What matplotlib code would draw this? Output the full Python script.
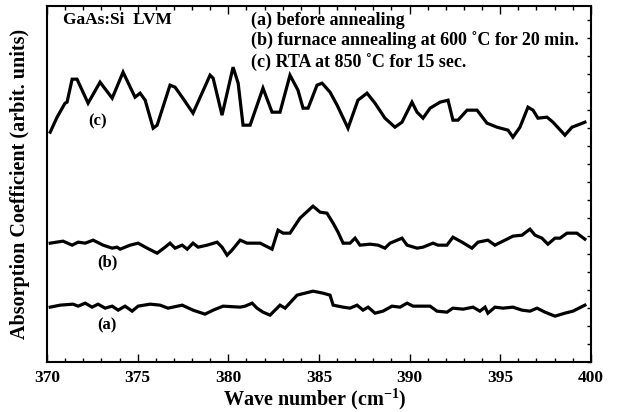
import numpy as np
import matplotlib
matplotlib.use("Agg")
import matplotlib.pyplot as plt
from matplotlib.ticker import MultipleLocator, NullFormatter

# wave numbers (cm^-1) and absorption (arbitrary units, offsets included)
wn_c = [370.17, 370.55, 370.99, 371.10, 371.38, 371.65, 372.26, 372.92, 373.59, 374.19,
        374.85, 375.13, 375.41, 375.85, 376.07, 376.78, 377.06, 377.45, 378.05, 378.99,
        379.16, 379.65, 380.26, 380.54, 380.81, 381.20, 381.91, 382.41, 382.85, 383.40,
        383.84, 384.12, 384.40, 384.89, 385.17, 385.61, 386.00, 386.60, 387.15, 387.65,
        388.09, 388.64, 389.19, 389.58, 390.13, 390.41, 390.74, 391.13, 391.68, 392.12,
        392.39, 392.67, 393.17, 393.72, 394.27, 394.82, 395.43, 395.70, 396.09, 396.53,
        396.81, 397.08, 397.58, 397.91, 398.57, 398.96, 399.40, 399.67]
abs_c = [23.0, 24.5, 25.9, 26.0, 28.3, 28.3, 25.9, 28.0, 26.4, 29.0,
         26.5, 26.9, 26.2, 23.4, 23.7, 27.7, 27.5, 26.5, 24.9, 28.7,
         28.4, 24.7, 29.5, 27.9, 23.7, 23.7, 27.4, 25.0, 25.0, 28.7,
         27.2, 25.4, 25.4, 27.7, 27.9, 27.0, 25.7, 23.4, 26.2, 26.9,
         25.9, 24.4, 23.5, 24.0, 26.0, 25.0, 24.4, 25.4, 26.0, 26.2,
         24.2, 24.2, 25.2, 25.2, 23.9, 23.5, 23.2, 22.5, 23.5, 25.5,
         25.2, 24.4, 24.5, 24.0, 22.7, 23.5, 23.8, 24.0]

wn_b = [370.17, 370.88, 371.38, 371.71, 372.10, 372.54, 373.09, 373.59, 373.86, 374.03,
        374.58, 375.02, 375.52, 376.07, 376.51, 376.78, 377.06, 377.45, 377.73, 378.05,
        378.33, 378.83, 379.38, 379.65, 379.93, 380.20, 380.65, 381.03, 381.75, 382.41,
        382.74, 383.02, 383.40, 383.95, 384.67, 385.06, 385.44, 385.78, 386.05, 386.33,
        386.71, 386.99, 387.26, 387.82, 388.26, 388.64, 388.92, 389.58, 389.86, 390.41,
        390.74, 391.29, 391.57, 392.06, 392.39, 392.89, 393.44, 393.77, 394.32, 394.71,
        395.26, 395.70, 396.20, 396.64, 396.92, 397.30, 397.63, 398.02, 398.30, 398.68,
        399.23, 399.67]
abs_b = [11.9, 12.1, 11.7, 12.0, 11.9, 12.2, 11.7, 11.4, 11.5, 11.3,
         11.7, 11.9, 11.4, 10.9, 11.5, 11.9, 11.4, 11.7, 11.3, 11.9,
         11.5, 11.7, 12.0, 11.5, 10.7, 11.2, 12.2, 11.9, 11.9, 11.3,
         13.2, 12.9, 12.9, 14.4, 15.6, 15.0, 14.9, 13.9, 13.0, 11.9,
         11.9, 12.4, 11.7, 11.8, 11.7, 11.4, 11.9, 12.4, 11.7, 11.4,
         11.5, 11.9, 11.7, 11.7, 12.5, 12.0, 11.4, 12.0, 12.2, 11.7,
         12.2, 12.6, 12.7, 13.3, 12.7, 12.4, 11.8, 12.4, 12.4, 12.9,
         12.9, 12.3]

wn_a = [370.17, 370.72, 371.43, 371.71, 372.10, 372.48, 372.81, 373.20, 373.59, 373.92,
        374.30, 374.69, 375.02, 375.68, 376.23, 376.67, 377.45, 378.05, 378.71, 379.16,
        379.71, 380.65, 380.92, 381.31, 381.58, 381.91, 382.30, 382.85, 383.13, 383.79,
        384.67, 385.22, 385.61, 385.78, 386.33, 386.71, 387.10, 387.43, 387.71, 388.09,
        388.53, 389.03, 389.47, 389.86, 390.19, 391.13, 391.51, 392.06, 392.39, 392.95,
        393.50, 393.88, 394.16, 394.32, 394.71, 395.15, 395.70, 396.20, 396.64, 397.03,
        397.47, 398.02, 398.57, 399.01, 399.67]
abs_a = [5.5, 5.7, 5.8, 5.6, 5.9, 5.5, 5.8, 5.4, 5.6, 5.2,
         5.6, 5.1, 5.6, 5.8, 5.7, 5.4, 5.7, 5.2, 4.8, 5.2,
         5.6, 5.5, 5.6, 5.9, 5.4, 5.0, 4.7, 5.7, 5.4, 6.7,
         7.1, 6.9, 6.7, 5.7, 5.5, 5.4, 5.7, 5.2, 5.5, 4.9,
         5.1, 5.6, 5.5, 5.9, 5.6, 5.6, 5.1, 5.0, 5.4, 5.3,
         5.5, 5.1, 5.5, 4.9, 5.5, 5.4, 5.5, 5.2, 5.1, 5.4,
         5.0, 4.6, 4.9, 5.1, 5.7]

curve_labels = ["(a)", "(b)", "(c)"]
legend_lines = ["(a) before annealing",
                "(b) furnace annealing at 600 \u02daC for 20 min.",
                "(c) RTA at 850 \u02daC for 15 sec."]

serif = ["Liberation Serif", "DejaVu Serif"]
plt.rcParams["font.family"] = serif
plt.rcParams["font.weight"] = "bold"
plt.rcParams["mathtext.fontset"] = "custom"
plt.rcParams["mathtext.rm"] = "Liberation Serif:bold"
plt.rcParams["mathtext.bf"] = "Liberation Serif:bold"

fig = plt.figure(figsize=(6.2, 4.12), dpi=100)
ax = fig.add_axes([0.076, 0.121, 0.877, 0.864])

for wn, ab in [(wn_a, abs_a), (wn_b, abs_b), (wn_c, abs_c)]:
    ax.plot(wn, ab, color="black", lw=2.3, solid_joinstyle="miter")

ax.set_xlim(370, 400)
ax.set_ylim(0, 35.6)

ax.text(372.25, 24.1, curve_labels[2], fontsize=12, ha="left", va="center")
ax.text(372.75, 10.0, curve_labels[1], fontsize=12, ha="left", va="center")
ax.text(372.75, 3.7, curve_labels[0], fontsize=12, ha="left", va="center")

ax.text(0.03, 0.961, "GaAs:Si  LVM", transform=ax.transAxes, fontsize=12.5,
        ha="left", va="center")
for i, line in enumerate(legend_lines):
    ax.text(0.375, 0.961 - i * 0.06, line, transform=ax.transAxes,
            fontsize=13, ha="left", va="center")

ax.xaxis.set_major_locator(MultipleLocator(5))
ax.xaxis.set_minor_locator(MultipleLocator(1))
ax.yaxis.set_minor_locator(MultipleLocator(1.8))
ax.yaxis.set_major_locator(MultipleLocator(9))
ax.yaxis.set_major_formatter(NullFormatter())
ax.tick_params(axis="x", which="major", direction="in", length=6, width=1,
               top=True, labelsize=12.5, pad=6)
ax.tick_params(axis="x", which="minor", direction="in", length=3, width=1, top=True)
ax.tick_params(axis="y", which="both", direction="in", left=False, right=True,
               length=3, width=1, labelleft=False)
for lbl in ax.get_xticklabels():
    lbl.set_fontweight("bold")

for sp in ax.spines.values():
    sp.set_linewidth(1.5)

fig.text(0.508, 0.016, "Wave number (cm$^{\\mathbf{-1}}$)", fontsize=14.5,
         fontweight="bold", ha="center", va="baseline")
ax.set_ylabel("Absorption Coefficient (arbit. units)", fontsize=14.5,
              fontweight="bold", labelpad=12)

fig.savefig("out.png", dpi=100)
